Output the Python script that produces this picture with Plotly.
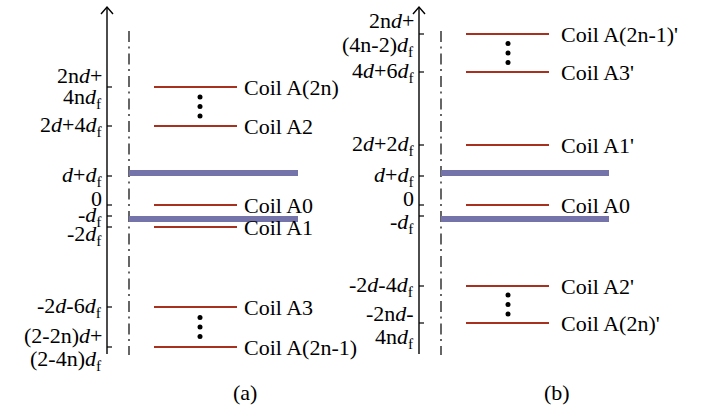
import plotly.graph_objects as go

# ---------------- data (levels in schematic units, 0 = Coil A0) ----------------
coil_levels_a = [118, 79, 0, -22, -102, -142]
coil_names_a = ["Coil A(2n)", "Coil A2", "Coil A0", "Coil A1", "Coil A3", "Coil A(2n-1)"]
tick_levels_a = [118, 79, 29, 0, -11, -22, -102, -142]
tick_text_a = [["2n<i>d</i>+", "4n<i>d</i><sub>f</sub>"], ["2<i>d</i>+4<i>d</i><sub>f</sub>"],
               ["<i>d</i>+<i>d</i><sub>f</sub>"], ["0"], ["-<i>d</i><sub>f</sub>"], ["-2<i>d</i><sub>f</sub>"],
               ["-2<i>d</i>-6<i>d</i><sub>f</sub>"], ["(2-2n)<i>d</i>+", "(2-4n)<i>d</i><sub>f</sub>"]]
dot_gaps_a = [(118, 79), (-102, -142)]

coil_levels_b = [171, 133, 60, 0, -81, -118]
coil_names_b = ["Coil A(2n-1)'", "Coil A3'", "Coil A1'", "Coil A0", "Coil A2'", "Coil A(2n)'"]
tick_levels_b = [171, 133, 60, 29, 0, -11, -81, -118]
tick_text_b = [["2n<i>d</i>+", "(4n-2)<i>d</i><sub>f</sub>"], ["4<i>d</i>+6<i>d</i><sub>f</sub>"],
               ["2<i>d</i>+2<i>d</i><sub>f</sub>"], ["<i>d</i>+<i>d</i><sub>f</sub>"], ["0"],
               ["-<i>d</i><sub>f</sub>"], ["-2<i>d</i>-4<i>d</i><sub>f</sub>"], ["-2n<i>d</i>-", "4n<i>d</i><sub>f</sub>"]]
dot_gaps_b = [(171, 133), (-81, -118)]

plate_edges = [29, -11]      # ferrite plates: d+d_f (upper), -d_f (lower)
plate_thickness = 6
captions = ["(a)", "(b)"]

# ---------------- layout / style ----------------
FONT = "Liberation Serif"
FS = 22
RED = "#a8301f"
BLUE = "#7474aa"
Y_TOP, Y_BOT = 205, -202        # y range so that the canvas maps 1 unit = 1 px

# vertical display offsets (px, + = up) of each tick-label line
panels = [
    dict(axis_x=107, dd_x=129, c0=154, c1=237, lab_x=242, bar_x1=298, tl_x=104, dot_x=200, cap_x=245,
         levels=coil_levels_a, names=coil_names_a, ticks=tick_levels_a, ttext=tick_text_a, gaps=dot_gaps_a,
         tshift=[[12, -11], [0], [0], [7], [0], [-8], [0], [12, -13]], cap=captions[0]),
    dict(axis_x=419, dd_x=441, c0=466, c1=549, lab_x=559, bar_x1=609, tl_x=416, dot_x=508, cap_x=557,
         levels=coil_levels_b, names=coil_names_b, ticks=tick_levels_b, ttext=tick_text_b, gaps=dot_gaps_b,
         tshift=[[14, -12], [0], [0], [0], [7], [-7], [0], [10, -15]], cap=captions[1]),
]

def py(p):  # pixel row -> y value
    return Y_TOP - p

fig = go.Figure()

for P in panels:
    ax = P["axis_x"]
    fig.add_trace(go.Scatter(x=[ax, ax], y=[py(354), py(7)], mode="lines",
                             line=dict(color="black", width=1.4), hoverinfo="skip"))
    fig.add_trace(go.Scatter(x=[ax - 6, ax, ax + 6], y=[py(14), py(7), py(14)], mode="lines",
                             line=dict(color="black", width=1.4), hoverinfo="skip"))
    fig.add_trace(go.Scatter(x=[P["dd_x"], P["dd_x"]], y=[py(31), py(355)], mode="lines",
                             line=dict(color="black", width=1.2, dash="11px,4.5px,2px,5px"),
                             hoverinfo="skip"))
    tx, ty = [], []
    for t in P["ticks"]:
        tx += [ax, ax + 5, None]
        ty += [t, t, None]
    fig.add_trace(go.Scatter(x=tx, y=ty, mode="lines", line=dict(color="black", width=1.2),
                             hoverinfo="skip"))
    for t, lines, shifts in zip(P["ticks"], P["ttext"], P["tshift"]):
        for txt, sh in zip(lines, shifts):
            fig.add_annotation(x=P["tl_x"], y=t, text=txt, showarrow=False, xanchor="right",
                               yanchor="middle", align="right", yshift=sh,
                               font=dict(family=FONT, size=FS, color="black"))
    for e in plate_edges:
        y0, y1 = (e, e + plate_thickness) if e > 0 else (e - plate_thickness, e)
        fig.add_shape(type="rect", xref="x", yref="y", x0=P["dd_x"], x1=P["bar_x1"],
                      y0=y0, y1=y1, fillcolor=BLUE, line=dict(width=0), layer="above")
    cx, cy = [], []
    for lv in P["levels"]:
        cx += [P["c0"], P["c1"], None]
        cy += [lv, lv, None]
    fig.add_trace(go.Scatter(x=cx, y=cy, mode="lines", line=dict(color=RED, width=2),
                             hoverinfo="skip"))
    for lv, nm in zip(P["levels"], P["names"]):
        fig.add_annotation(x=P["lab_x"], y=lv, text=nm, showarrow=False, xanchor="left",
                           yanchor="middle", font=dict(family=FONT, size=FS, color="black"))
    dx, dy = [], []
    for hi, lo in P["gaps"]:
        mid = (hi + lo) / 2
        for k in (-1, 0, 1):
            dx.append(P["dot_x"])
            dy.append(mid + k * 9.5)
    fig.add_trace(go.Scatter(x=dx, y=dy, mode="markers", marker=dict(color="black", size=5),
                             hoverinfo="skip"))
    fig.add_annotation(x=P["cap_x"], y=py(392), text=P["cap"], showarrow=False,
                       xanchor="center", yanchor="middle",
                       font=dict(family=FONT, size=FS, color="black"))

fig.update_layout(
    width=702, height=407, margin=dict(l=0, r=0, t=0, b=0),
    paper_bgcolor="white", plot_bgcolor="white", showlegend=False,
    xaxis=dict(range=[0, 702], visible=False),
    yaxis=dict(range=[Y_BOT, Y_TOP], visible=False),
)
fig.write_html("out.html")
